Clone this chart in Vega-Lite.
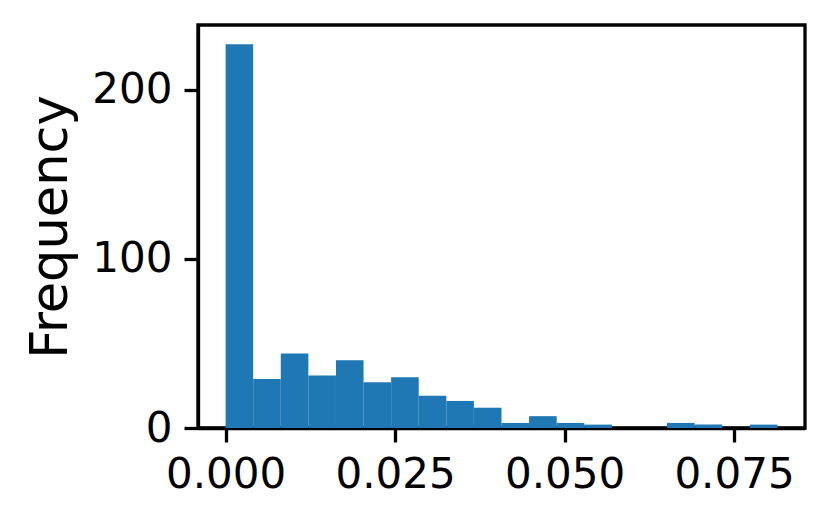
{
  "$schema": "https://vega.github.io/schema/vega-lite/v6.json",
  "width": 607,
  "height": 403,
  "autosize": {"type": "none"},
  "padding": {"left": 198, "top": 25, "right": 26, "bottom": 94},
  "background": "white",
  "config": {
    "font": "DejaVu Sans",
    "view": {"stroke": "black", "strokeWidth": 3.3},
    "axis": {
      "grid": false,
      "domainColor": "black",
      "domainWidth": 3.3,
      "tickColor": "black",
      "tickWidth": 3.3,
      "tickSize": 14,
      "labelPadding": 12,
      "labelFont": "DejaVu Sans",
      "labelFontSize": 42,
      "labelColor": "black",
      "titleFont": "DejaVu Sans",
      "titleFontSize": 51,
      "titleFontWeight": "normal",
      "titleColor": "black"
    }
  },
  "data": {
    "values": [
      {"bin_start": 0.0, "bin_end": 0.00407, "count": 227},
      {"bin_start": 0.00407, "bin_end": 0.00814, "count": 29},
      {"bin_start": 0.00814, "bin_end": 0.01221, "count": 44},
      {"bin_start": 0.01221, "bin_end": 0.01628, "count": 31},
      {"bin_start": 0.01628, "bin_end": 0.02035, "count": 40},
      {"bin_start": 0.02035, "bin_end": 0.02442, "count": 27},
      {"bin_start": 0.02442, "bin_end": 0.02849, "count": 30},
      {"bin_start": 0.02849, "bin_end": 0.03256, "count": 19},
      {"bin_start": 0.03256, "bin_end": 0.03663, "count": 16},
      {"bin_start": 0.03663, "bin_end": 0.0407, "count": 12},
      {"bin_start": 0.0407, "bin_end": 0.04477, "count": 3},
      {"bin_start": 0.04477, "bin_end": 0.04884, "count": 7},
      {"bin_start": 0.04884, "bin_end": 0.05291, "count": 3},
      {"bin_start": 0.05291, "bin_end": 0.05698, "count": 2},
      {"bin_start": 0.05698, "bin_end": 0.06105, "count": 0},
      {"bin_start": 0.06105, "bin_end": 0.06512, "count": 0},
      {"bin_start": 0.06512, "bin_end": 0.06919, "count": 3},
      {"bin_start": 0.06919, "bin_end": 0.07326, "count": 2},
      {"bin_start": 0.07326, "bin_end": 0.07733, "count": 0},
      {"bin_start": 0.07733, "bin_end": 0.0814, "count": 2}
    ]
  },
  "mark": {"type": "bar", "color": "#1f77b4", "binSpacing": 0, "orient": "vertical"},
  "encoding": {
    "x": {
      "field": "bin_start",
      "type": "quantitative",
      "scale": {"domain": [-0.00407, 0.08547], "nice": false, "zero": false, "padding": 0},
      "axis": {"title": null, "values": [0, 0.025, 0.05, 0.075], "format": ".3f"}
    },
    "x2": {"field": "bin_end"},
    "y": {
      "field": "count",
      "type": "quantitative",
      "scale": {"domain": [0, 238.35], "nice": false, "padding": 0},
      "axis": {"title": "Frequency", "values": [0, 100, 200], "titlePadding": 14}
    },
    "y2": {"datum": 0}
  }
}
